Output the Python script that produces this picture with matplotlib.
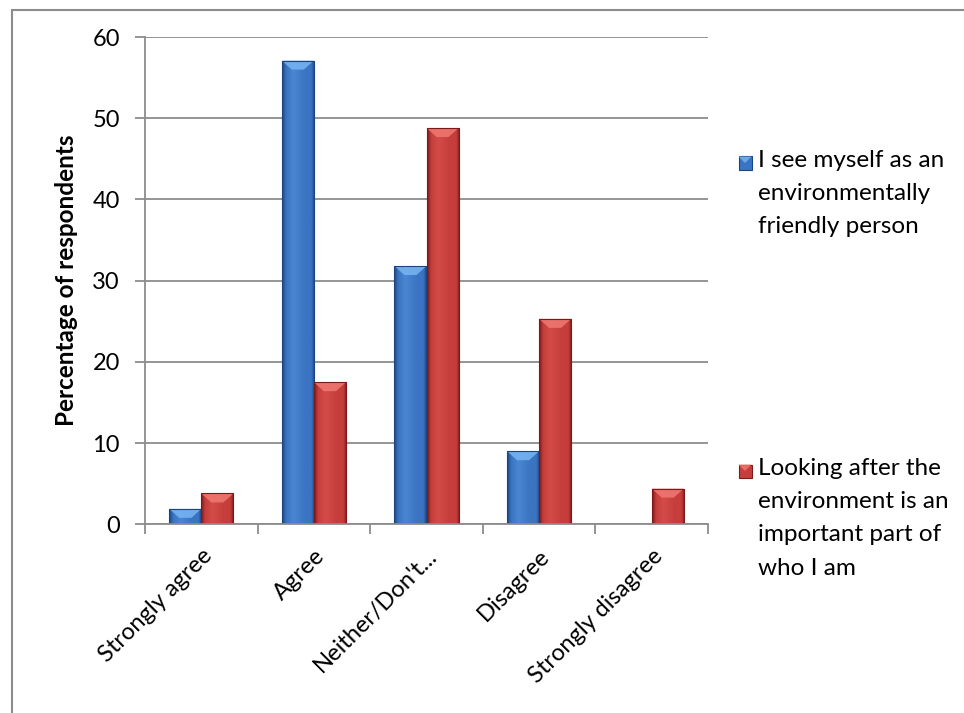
import numpy as np
import matplotlib
matplotlib.use("Agg")
import matplotlib.pyplot as plt
from matplotlib.patches import Rectangle, Polygon
from matplotlib.colors import LinearSegmentedColormap

plt.rcParams['font.family'] = ['Lato', 'DejaVu Sans']

categories = ["Strongly agree", "Agree", "Neither/Don't...", "Disagree", "Strongly disagree"]
series_names = ["I see myself as an\nenvironmentally\nfriendly person",
                "Looking after the\nenvironment is an\nimportant part of\nwho I am"]
self_image = [1.9, 57.1, 31.8, 9.0, np.nan]
identity = [3.8, 17.5, 48.8, 25.3, 4.4]
y_ticks = [0, 10, 20, 30, 40, 50, 60]

W, H = 964, 713
fig = plt.figure(figsize=(W / 100, H / 100), dpi=100)
ax = fig.add_axes([145 / W, 1 - 524.3 / H, (708 - 145) / W, (524.3 - 37) / H])

# bevelled bar styling: (edge, body, sheen, top highlight)
palettes = [
    ("#1c4580", "#3a74c2", "#4a86d2", "#74b2f2"),
    ("#7a1a1a", "#c63e3c", "#d44c48", "#ee7670"),
]

x = np.arange(len(categories))
bw = 0.285
ax.set_xlim(-0.5, len(categories) - 0.5)
ax.set_ylim(0, 60)

px_x = len(categories) / (708 - 145)      # data units per pixel, x
px_y = 60 / (524.3 - 37)                  # data units per pixel, y

def bevel_bar(patch, pal):
    edge, body, sheen, hi = pal
    x0, y0 = patch.get_x(), patch.get_y()
    w, h = patch.get_width(), patch.get_height()
    if not np.isfinite(h) or h <= 0:
        return
    cmap = LinearSegmentedColormap.from_list(
        "b", [(0, edge), (0.12, body), (0.35, sheen), (0.7, body), (0.9, body), (1, edge)])
    grad = np.linspace(0, 1, 64)[None, :]
    im = ax.imshow(grad, extent=(x0, x0 + w, y0, y0 + h), aspect="auto",
                   cmap=cmap, zorder=2.1, interpolation="bicubic")
    im.set_clip_path(patch)
    d = min(9 * px_y, h)
    dx = 10 * px_x
    top = Polygon([(x0, y0 + h), (x0 + w, y0 + h), (x0 + w - dx, y0 + h - d),
                   (x0 + dx, y0 + h - d)], closed=True, facecolor=hi,
                  edgecolor="none", alpha=0.9, zorder=2.2)
    ax.add_patch(top)
    ax.add_patch(Rectangle((x0, y0), w, h, facecolor="none", edgecolor=edge,
                           linewidth=0.8, zorder=2.3))

for vals, offset, pal in [(self_image, -bw / 2, palettes[0]), (identity, bw / 2, palettes[1])]:
    bars = ax.bar(x + offset, vals, width=bw, color=pal[1], zorder=2)
    for b in bars:
        bevel_bar(b, pal)

ax.set_yticks(y_ticks)
ax.yaxis.grid(True, color="#8c8c8c", linewidth=1.3, zorder=0)
ax.set_axisbelow(True)
for s in ["top", "right"]:
    ax.spines[s].set_visible(False)
for s in ["left", "bottom"]:
    ax.spines[s].set_color("#8c8c8c")
    ax.spines[s].set_linewidth(1.3)

ax.set_xticks(np.arange(len(categories) + 1) - 0.5)
ax.set_xticklabels([])
ax.set_xticks(x, minor=True)
ax.set_xticklabels(categories, minor=True, rotation=45, ha="right",
                   rotation_mode="anchor", fontsize=17)
ax.tick_params(axis="x", which="minor", length=0, pad=15)
ax.tick_params(axis="both", which="major", length=7, color="#8c8c8c", width=1.3,
               labelsize=17)
ax.tick_params(axis="y", pad=11)

ax.set_ylabel("Percentage of respondents", fontsize=17.5, fontweight="bold", labelpad=10)

# legend drawn by hand with bevelled swatches
def swatch(xc, yc, pal):
    s = 13
    fx, fy = xc / W, 1 - yc / H
    fig.patches.append(Rectangle((fx - s / 2 / W, fy - s / 2 / H), s / W, s / H,
                                 transform=fig.transFigure, facecolor=pal[1],
                                 edgecolor=pal[0], linewidth=0.8))
    fig.patches.append(Polygon([(fx - s / 2 / W, fy + s / 2 / H), (fx + s / 2 / W, fy + s / 2 / H),
                                (fx, fy)], closed=True, transform=fig.transFigure,
                               facecolor=pal[3], edgecolor="none", alpha=0.85))

legend_y = [163, 471]
for name, ly, pal in zip(series_names, legend_y, palettes):
    swatch(745, ly, pal)
    fig.text(758 / W, 1 - (ly - 13) / H, name, fontsize=17.5, va="top", ha="left",
             linespacing=1.72)

# chart area border
fig.patches.append(Rectangle((12 / W, -0.1), 1.1, 1 - 10 / H + 0.1,
                             transform=fig.transFigure, facecolor="none",
                             edgecolor="#8c8c8c", linewidth=1.5))

fig.savefig("out.png", dpi=100)
